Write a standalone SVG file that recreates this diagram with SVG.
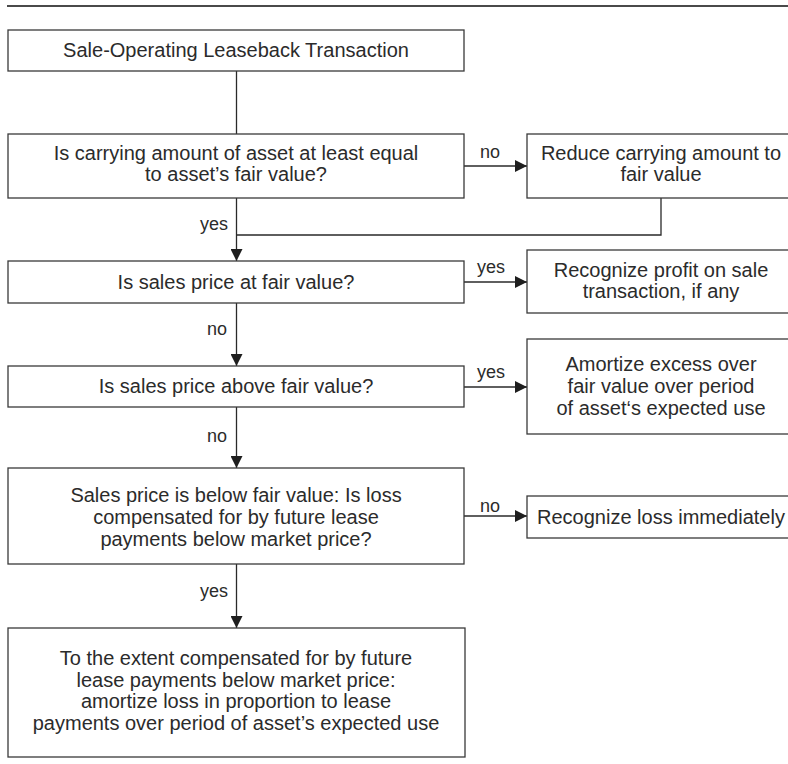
<svg xmlns="http://www.w3.org/2000/svg" width="788" height="764" viewBox="0 0 788 764">
  <style>
    .box { fill: #ffffff; stroke: #3a3a3a; stroke-width: 1.3; }
    .line { fill: none; stroke: #2a2a2a; stroke-width: 1.3; }
    .txt { font-family: "Liberation Sans", Arial, sans-serif; font-size: 20px; fill: #2b2b2b; text-anchor: middle; }
    .lbl { font-family: "Liberation Sans", Arial, sans-serif; font-size: 18px; fill: #2b2b2b; }
  </style>
  <defs>
    <marker id="arrow" markerUnits="userSpaceOnUse" markerWidth="12" markerHeight="12" refX="12" refY="6" orient="auto">
      <path d="M0,0 L12,6 L0,12 Z" fill="#1e1e1e"/>
    </marker>
  </defs>

  <rect width="788" height="764" fill="#ffffff"/>
  <!-- top rule -->
  <line x1="7" y1="6" x2="788" y2="6" stroke="#4a4a4a" stroke-width="2"/>

  <!-- connectors -->
  <g id="connectors">
    <line class="line" x1="236.5" y1="71" x2="236.5" y2="134"/>
    <line class="line" x1="464" y1="166" x2="527" y2="166" marker-end="url(#arrow)"/>
    <line class="line" x1="236.5" y1="198" x2="236.5" y2="261" marker-end="url(#arrow)"/>
    <polyline class="line" points="661,198 661,235 236.5,235"/>
    <line class="line" x1="464" y1="282" x2="527" y2="282" marker-end="url(#arrow)"/>
    <line class="line" x1="236.5" y1="303" x2="236.5" y2="366" marker-end="url(#arrow)"/>
    <line class="line" x1="464" y1="387" x2="527" y2="387" marker-end="url(#arrow)"/>
    <line class="line" x1="236.5" y1="407" x2="236.5" y2="468" marker-end="url(#arrow)"/>
    <line class="line" x1="464" y1="516" x2="527" y2="516" marker-end="url(#arrow)"/>
    <line class="line" x1="236.5" y1="564" x2="236.5" y2="628" marker-end="url(#arrow)"/>

    <text class="lbl" x="490" y="158" text-anchor="middle">no</text>
    <text class="lbl" x="228" y="230" text-anchor="end">yes</text>
    <text class="lbl" x="491" y="273" text-anchor="middle">yes</text>
    <text class="lbl" x="227" y="335" text-anchor="end">no</text>
    <text class="lbl" x="491" y="378" text-anchor="middle">yes</text>
    <text class="lbl" x="227" y="442" text-anchor="end">no</text>
    <text class="lbl" x="490" y="512" text-anchor="middle">no</text>
    <text class="lbl" x="228" y="597" text-anchor="end">yes</text>
  </g>

  <g id="start">
    <rect class="box" x="8" y="30" width="456" height="41"/>
    <text class="txt" x="236" y="57">Sale-Operating Leaseback Transaction</text>
  </g>

  <g id="q-carrying">
    <rect class="box" x="8" y="134" width="456" height="64"/>
    <text class="txt" x="236" y="160">Is carrying amount of asset at least equal</text>
    <text class="txt" x="236" y="181">to asset’s fair value?</text>
  </g>

  <g id="reduce">
    <rect class="box" x="527" y="134" width="280" height="64"/>
    <text class="txt" x="661" y="160">Reduce carrying amount to</text>
    <text class="txt" x="661" y="181">fair value</text>
  </g>

  <g id="q-at-fair">
    <rect class="box" x="8" y="261" width="456" height="42"/>
    <text class="txt" x="236" y="289">Is sales price at fair value?</text>
  </g>

  <g id="recognize-profit">
    <rect class="box" x="527" y="250" width="280" height="63"/>
    <text class="txt" x="661" y="277">Recognize profit on sale</text>
    <text class="txt" x="661" y="298">transaction, if any</text>
  </g>

  <g id="q-above">
    <rect class="box" x="8" y="366" width="456" height="41"/>
    <text class="txt" x="236" y="393">Is sales price above fair value?</text>
  </g>

  <g id="amortize-excess">
    <rect class="box" x="527" y="339" width="280" height="95"/>
    <text class="txt" x="661" y="371">Amortize excess over</text>
    <text class="txt" x="661" y="393">fair value over period</text>
    <text class="txt" x="661" y="415">of asset‘s expected use</text>
  </g>

  <g id="q-below">
    <rect class="box" x="8" y="468" width="456" height="96"/>
    <text class="txt" x="236" y="502">Sales price is below fair value: Is loss</text>
    <text class="txt" x="236" y="524">compensated for by future lease</text>
    <text class="txt" x="236" y="546">payments below market price?</text>
  </g>

  <g id="recognize-loss">
    <rect class="box" x="527" y="496" width="280" height="42"/>
    <text class="txt" x="661" y="524">Recognize loss immediately</text>
  </g>

  <g id="amortize-loss">
    <rect class="box" x="8" y="628" width="457" height="129"/>
    <text class="txt" x="236" y="665">To the extent compensated for by future</text>
    <text class="txt" x="236" y="687">lease payments below market price:</text>
    <text class="txt" x="236" y="708">amortize loss in proportion to lease</text>
    <text class="txt" x="236" y="730">payments over period of asset’s expected use</text>
  </g>
</svg>
